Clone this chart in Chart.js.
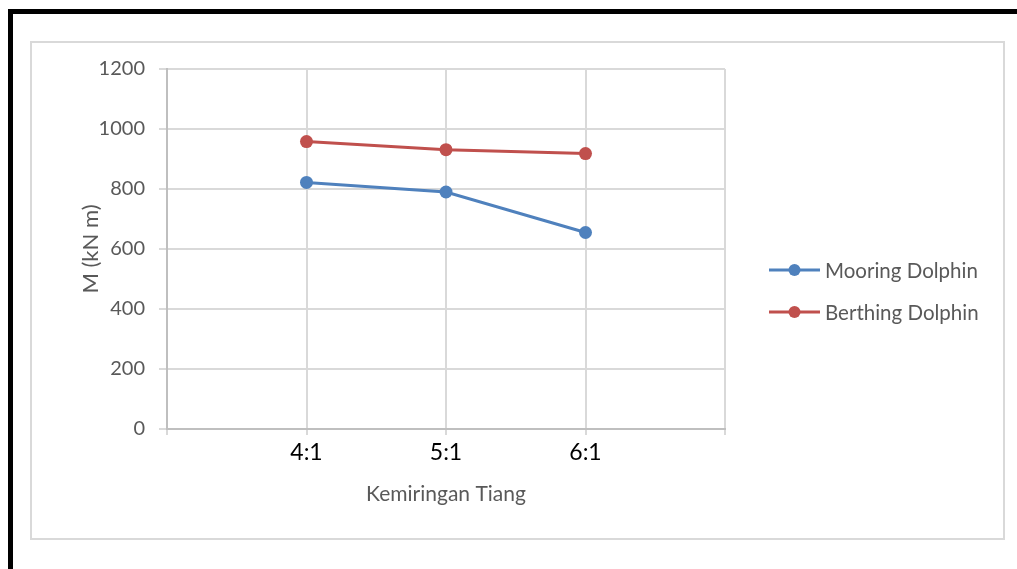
<!DOCTYPE html>
<html>
<head>
<meta charset="utf-8">
<script src="https://cdn.jsdelivr.net/npm/chart.js@4.4.0/dist/chart.umd.min.js"></script>
<style>
  html, body { margin: 0; padding: 0; background: #ffffff; }
  body { width: 1017px; height: 569px; position: relative; overflow: hidden; }
  #frame { position: absolute; left: 8px; top: 9px; width: 1100px; height: 555px;
           border-top: 5px solid #000; border-left: 5px solid #000; border-bottom: 2px solid #000; }
  #inner { position: absolute; left: 30px; top: 41px; width: 971px; height: 495px;
           border: 2px solid #d9d9d9; }
  #wrap { position: absolute; left: 0; top: 0; width: 1017px; height: 569px; }
</style>
</head>
<body>
<div id="frame"></div>
<div id="inner"></div>
<div id="wrap"><canvas id="c" width="1017" height="569"></canvas></div>
<script>
// ---- data ----
const categories = ['4:1', '5:1', '6:1'];
const mooringDolphin = [822, 790, 655];
const berthingDolphin = [958, 931, 918];
const yTicks = [0, 200, 400, 600, 800, 1000, 1200];
const seriesNames = ['Mooring Dolphin', 'Berthing Dolphin'];
const xTitle = 'Kemiringan Tiang';
const yTitle = 'M (kN m)';

// padded category axis (empty slots at both ends, like the original axis)
const labels = [''].concat(categories, ['']);
const pad = arr => [null].concat(arr, [null]);

const FONT = 'Lato, "Open Sans", sans-serif';
const TXT = '#595959';

const legendPlugin = {
  id: 'sideLegend',
  afterDraw(chart) {
    const ctx = chart.ctx;
    const items = chart.data.datasets;
    const x0 = 769, x1 = 820, tx = 825;
    const ys = [270, 312];
    ctx.save();
    items.forEach((ds, i) => {
      const y = ys[i];
      ctx.strokeStyle = ds.borderColor;
      ctx.lineWidth = 3;
      ctx.beginPath(); ctx.moveTo(x0, y); ctx.lineTo(x1, y); ctx.stroke();
      ctx.fillStyle = ds.backgroundColor;
      ctx.beginPath(); ctx.arc((x0 + x1) / 2, y, 6, 0, Math.PI * 2); ctx.fill();
      ctx.fillStyle = TXT;
      ctx.font = '20.5px ' + FONT;
      ctx.textBaseline = 'middle';
      ctx.textAlign = 'left';
      ctx.fillText(ds.label, tx, y + 1);
    });
    ctx.restore();
  }
};

new Chart(document.getElementById('c'), {
  type: 'line',
  data: {
    labels: labels,
    datasets: [
      { label: seriesNames[0], data: pad(mooringDolphin), borderColor: '#4f81bd', backgroundColor: '#4f81bd',
        borderWidth: 3, pointRadius: 6.5, pointHoverRadius: 6.5, pointBorderWidth: 0, tension: 0 },
      { label: seriesNames[1], data: pad(berthingDolphin), borderColor: '#c0504d', backgroundColor: '#c0504d',
        borderWidth: 3, pointRadius: 6.5, pointHoverRadius: 6.5, pointBorderWidth: 0, tension: 0 }
    ]
  },
  options: {
    responsive: false,
    animation: false,
    events: [],
    layout: { padding: { left: 78, right: 292, top: 69, bottom: 60 } },
    plugins: { legend: { display: false }, tooltip: { enabled: false } },
    scales: {
      x: {
        type: 'category',
        offset: false,
        grid: { color: '#d9d9d9', lineWidth: 2, tickLength: 6, drawTicks: true },
        border: { color: '#bfbfbf', width: 2 },
        ticks: { color: '#000000', font: { family: FONT, size: 23 }, padding: 4, autoSkip: false, maxRotation: 0 },
        title: { display: true, text: xTitle, color: TXT, font: { family: FONT, size: 21 }, padding: { top: 0, bottom: 2 } },
        afterFit(s) { s.height = 80; }
      },
      y: {
        min: 0, max: 1200,
        afterBuildTicks(s) { s.ticks = yTicks.map(v => ({ value: v })); },
        grid: { color: '#d9d9d9', lineWidth: 2, tickLength: 8 },
        border: { color: '#bfbfbf', width: 2 },
        ticks: { color: TXT, font: { family: FONT, size: 20 }, padding: 14, callback: v => String(v) },
        title: { display: true, text: yTitle, color: TXT, font: { family: FONT, size: 22 }, padding: { top: 0, bottom: 0 } },
        afterFit(s) { s.width = 89; }
      }
    }
  },
  plugins: [legendPlugin]
});
</script>
</body>
</html>
